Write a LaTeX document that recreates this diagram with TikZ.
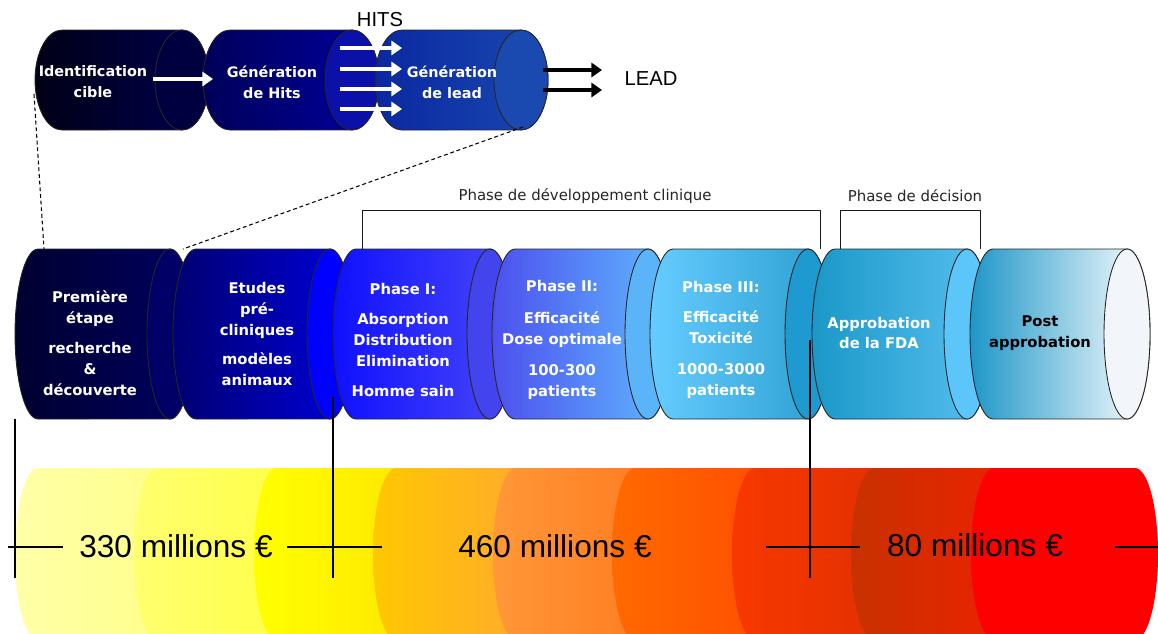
\documentclass[tikz,border=0pt]{standalone}
\usepackage{fontspec}
\setmainfont{DejaVu Sans}
\newfontfamily\arialfont{Liberation Sans}
\usetikzlibrary{arrows.meta}
% colours of the cylinders
\definecolor{topAl}{HTML}{000015}
\definecolor{topAr}{HTML}{000050}
\definecolor{topAe}{HTML}{000040}
\definecolor{topBl}{HTML}{000058}
\definecolor{topBr}{HTML}{0000A0}
\definecolor{topBe}{HTML}{0A10A8}
\definecolor{topCl}{HTML}{0A28A0}
\definecolor{topCr}{HTML}{1A48B0}
\definecolor{topCe}{HTML}{1A4AB0}
\definecolor{rowAl}{HTML}{000030}
\definecolor{rowAr}{HTML}{000060}
\definecolor{rowAe}{HTML}{000066}
\definecolor{rowBl}{HTML}{000070}
\definecolor{rowBr}{HTML}{0000DD}
\definecolor{rowBe}{HTML}{0000FF}
\definecolor{rowCl}{HTML}{1010FF}
\definecolor{rowCr}{HTML}{4848F8}
\definecolor{rowCe}{HTML}{4444EE}
\definecolor{rowDl}{HTML}{4C50EE}
\definecolor{rowDr}{HTML}{60B8FF}
\definecolor{rowDe}{HTML}{5CB4F8}
\definecolor{rowEl}{HTML}{66CCFF}
\definecolor{rowEr}{HTML}{2A9ED0}
\definecolor{rowEe}{HTML}{1E9AD0}
\definecolor{rowFl}{HTML}{1A98C8}
\definecolor{rowFr}{HTML}{58C0F0}
\definecolor{rowFe}{HTML}{5CC6FA}
\definecolor{rowGl}{HTML}{1E96C8}
\definecolor{rowGr}{HTML}{FFFFFF}
\definecolor{rowGe}{HTML}{F2F5FA}
% colours of the cost bar
\definecolor{barAl}{HTML}{FFFFA8}
\definecolor{barAr}{HTML}{FFFF88}
\definecolor{barBl}{HTML}{FFFF70}
\definecolor{barBr}{HTML}{FFFF45}
\definecolor{barCl}{HTML}{FFFF00}
\definecolor{barCr}{HTML}{FFE600}
\definecolor{barDl}{HTML}{FFC800}
\definecolor{barDr}{HTML}{FFA830}
\definecolor{barEl}{HTML}{FF9838}
\definecolor{barEr}{HTML}{FF7A20}
\definecolor{barFl}{HTML}{FF6A00}
\definecolor{barFr}{HTML}{FF4C00}
\definecolor{barGl}{HTML}{F83800}
\definecolor{barGr}{HTML}{E03000}
\definecolor{barHl}{HTML}{C83200}
\definecolor{barHr}{HTML}{EE2000}
\tikzstyle{smallcap} = [x radius=0.54cm, 
y radius=1cm]
\tikzstyle{bigcap} = [x radius=0.46cm, 
y radius=1.7cm]
\tikzstyle{barcap} = [x radius=0.46cm, 
y radius=1.72cm]
\tikzstyle{cylbody} = [draw=black!85, 
line width=0.5pt]
\tikzstyle{toptext} = [text=white, 
align=center, 
font=\bfseries\fontsize{8.2}{12}\selectfont]
\tikzstyle{cyltext} = [text=white, 
align=center, 
font=\bfseries\fontsize{8.4}{11.9}\selectfont]
\tikzstyle{phasetext} = [text=black!85, 
font=\fontsize{8.5}{10}\selectfont]
\tikzstyle{moneytext} = [font=\arialfont\fontsize{18}{20}\selectfont]
\tikzstyle{tagtext} = [font=\arialfont\fontsize{11.5}{13}\selectfont]
\tikzstyle{hitarrow} = [white, line width=2.3pt, -{Triangle[length=6pt,width=8pt]}]
\tikzstyle{leadarrow} = [black, line width=2.3pt, -{Triangle[length=6pt,width=8pt]}]
\tikzstyle{bracket} = [draw=black!90, line width=0.55pt]
\tikzstyle{guide} = [draw=black, line width=0.6pt]
\tikzstyle{zoomline} = [draw=black, line width=0.6pt, dash pattern=on 2.2pt off 1.6pt]

\begin{document}
\begin{tikzpicture}[x=0.02cm, y=-0.02cm]
	\clip (0,0) rectangle (1158,633);
	\fill[white] (0,0) rectangle (1158,633);
	
	% cost bar
	\path[left color=barAl, right color=barAr] (38,468) -- (180,468) -- (180,640) -- (38,640) arc[barcap, start angle=270, end angle=90] -- cycle;
	\path[left color=barBl, right color=barBr] (157,468) -- (300,468) -- (300,640) -- (157,640) arc[barcap, start angle=270, end angle=90] -- cycle;
	\path[left color=barCl, right color=barCr] (277,468) -- (419,468) -- (419,640) -- (277,640) arc[barcap, start angle=270, end angle=90] -- cycle;
	\path[left color=barDl, right color=barDr] (396,468) -- (539,468) -- (539,640) -- (396,640) arc[barcap, start angle=270, end angle=90] -- cycle;
	\path[left color=barEl, right color=barEr] (516,468) -- (658,468) -- (658,640) -- (516,640) arc[barcap, start angle=270, end angle=90] -- cycle;
	\path[left color=barFl, right color=barFr] (635,468) -- (778,468) -- (778,640) -- (635,640) arc[barcap, start angle=270, end angle=90] -- cycle;
	\path[left color=barGl, right color=barGr] (755,468) -- (897,468) -- (897,640) -- (755,640) arc[barcap, start angle=270, end angle=90] -- cycle;
	\path[left color=barHl, right color=barHr] (874,468) -- (1017,468) -- (1017,640) -- (874,640) arc[barcap, start angle=270, end angle=90] -- cycle;
	\path[fill=red] (994,468) -- (1135,468) arc[barcap, start angle=90, end angle=-90] -- (994,640) arc[barcap, start angle=270, end angle=90] -- cycle;
	
	% upper chain
	\path[cylbody, left color=topAl, right color=topAr] (62,30) -- (182,30) arc[smallcap, start angle=90, end angle=-90] -- (62,130) arc[smallcap, start angle=270, end angle=90] -- cycle;
	\path[cylbody, fill=topAe] (182,80) ellipse[smallcap];
	\path[cylbody, left color=topBl, right color=topBr] (230,30) -- (352,30) arc[smallcap, start angle=90, end angle=-90] -- (230,130) arc[smallcap, start angle=270, end angle=90] -- cycle;
	\path[cylbody, fill=topBe] (352,80) ellipse[smallcap];
	\path[cylbody, left color=topCl, right color=topCr] (402,30) -- (521,30) arc[smallcap, start angle=90, end angle=-90] -- (402,130) arc[smallcap, start angle=270, end angle=90] -- cycle;
	\path[cylbody, fill=topCe] (521,80) ellipse[smallcap];
	
	\node (idcible) [toptext] at (93,82) {Identification\\cible};
	\node (genhits) [toptext] at (272,82) {Génération\\de Hits};
	\node (genlead) [toptext] at (452,82) {Génération\\de lead};
	\node (hits) [tagtext] at (380,20) {HITS};
	\node (lead) [tagtext] at (651,79) {LEAD};
	
	\coordinate (cibleout) at (153,79);
	\coordinate (hitsin) at (213,79);
	\draw[hitarrow] (cibleout) -- (hitsin);
	\coordinate (hitA) at (340,48);
	\coordinate (hitB) at (340,69);
	\coordinate (hitC) at (340,89);
	\coordinate (hitD) at (340,109);
	\draw[hitarrow] (hitA) -- ++(62,0);
	\draw[hitarrow] (hitB) -- ++(62,0);
	\draw[hitarrow] (hitC) -- ++(62,0);
	\draw[hitarrow] (hitD) -- ++(62,0);
	\coordinate (leadA) at (543,70);
	\coordinate (leadB) at (543,90);
	\draw[leadarrow] (leadA) -- ++(59,0);
	\draw[leadarrow] (leadB) -- ++(59,0);
	
	% zoom lines
	\coordinate (zoomAtop) at (34,94);
	\coordinate (zoomAbot) at (44,249);
	\coordinate (zoomBtop) at (523,127);
	\coordinate (zoomBbot) at (183,249);
	\draw[zoomline] (zoomAtop) -- (zoomAbot);
	\draw[zoomline] (zoomBtop) -- (zoomBbot);
	
	% main chain
	\path[cylbody, left color=rowAl, right color=rowAr] (38,249) -- (170,249) arc[bigcap, start angle=90, end angle=-90] -- (38,419) arc[bigcap, start angle=270, end angle=90] -- cycle;
	\path[cylbody, fill=rowAe] (170,334) ellipse[bigcap];
	\path[cylbody, left color=rowBl, right color=rowBr] (196,249) -- (330,249) arc[bigcap, start angle=90, end angle=-90] -- (196,419) arc[bigcap, start angle=270, end angle=90] -- cycle;
	\path[cylbody, fill=rowBe] (330,334) ellipse[bigcap];
	\path[cylbody, left color=rowCl, right color=rowCr] (356,249) -- (490,249) arc[bigcap, start angle=90, end angle=-90] -- (356,419) arc[bigcap, start angle=270, end angle=90] -- cycle;
	\path[cylbody, fill=rowCe] (490,334) ellipse[bigcap];
	\path[cylbody, left color=rowDl, right color=rowDr] (515,249) -- (648,249) arc[bigcap, start angle=90, end angle=-90] -- (515,419) arc[bigcap, start angle=270, end angle=90] -- cycle;
	\path[cylbody, fill=rowDe] (648,334) ellipse[bigcap];
	\path[cylbody, left color=rowEl, right color=rowEr] (673,249) -- (808,249) arc[bigcap, start angle=90, end angle=-90] -- (673,419) arc[bigcap, start angle=270, end angle=90] -- cycle;
	\path[cylbody, fill=rowEe] (808,334) ellipse[bigcap];
	\path[cylbody, left color=rowFl, right color=rowFr] (835,249) -- (967,249) arc[bigcap, start angle=90, end angle=-90] -- (835,419) arc[bigcap, start angle=270, end angle=90] -- cycle;
	\path[cylbody, fill=rowFe] (967,334) ellipse[bigcap];
	\path[cylbody, left color=rowGl, right color=rowGr] (993,249) -- (1127,249) arc[bigcap, start angle=90, end angle=-90] -- (993,419) arc[bigcap, start angle=270, end angle=90] -- cycle;
	\path[cylbody, fill=rowGe] (1127,334) ellipse[bigcap];
	
	\node (premiere) [cyltext] at (90,343) {Première\\étape\\[5pt]recherche\\\&\\découverte};
	\node (etudes) [cyltext] at (257,334) {Etudes\\pré-\\cliniques\\[5pt]modèles\\animaux};
	\node (phaseI) [cyltext] at (403,340) {Phase I:\\[5pt]Absorption\\Distribution\\Elimination\\[5pt]Homme sain};
	\node (phaseII) [cyltext] at (562,340) {Phase II:\\[6pt]Efficacité\\Dose optimale\\[6pt]100-300\\patients};
	\node (phaseIII) [cyltext] at (721,340) {Phase III:\\[5pt]Efficacité\\Toxicité\\[6pt]1000-3000\\patients};
	\node (fda) [cyltext] at (879,333) {Approbation\\de la FDA};
	\node (post) [cyltext, text=black] at (1040,333) {Post\\approbation};
	
	% phase brackets
	\coordinate (clinL) at (362,249);
	\coordinate (clinR) at (820,249);
	\draw[bracket] (clinL) -- ++(0,-39) -| (clinR);
	\node (clin) [phasetext] at (585,196) {Phase de développement clinique};
	\coordinate (decL) at (840,249);
	\coordinate (decR) at (980,249);
	\draw[bracket] (decL) -- ++(0,-39) -| (decR);
	\node (decision) [phasetext] at (915,196) {Phase de décision};
	
	% cost marks
	\coordinate (markAtop) at (15,419);
	\coordinate (markAbot) at (15,578);
	\coordinate (markBtop) at (333,397);
	\coordinate (markBbot) at (333,578);
	\coordinate (markCtop) at (810,340);
	\coordinate (markCbot) at (810,578);
	\draw[guide] (markAtop) -- (markAbot);
	\draw[guide] (markBtop) -- (markBbot);
	\draw[guide] (markCtop) -- (markCbot);
	\coordinate (tickAl) at (8,547);
	\coordinate (tickAr) at (63,547);
	\coordinate (tickBl) at (287,547);
	\coordinate (tickBr) at (382,547);
	\coordinate (tickCl) at (766,547);
	\coordinate (tickCr) at (860,547);
	\coordinate (tickDl) at (1115,547);
	\coordinate (tickDr) at (1158,547);
	\draw[guide] (tickAl) -- (tickAr);
	\draw[guide] (tickBl) -- (tickBr);
	\draw[guide] (tickCl) -- (tickCr);
	\draw[guide] (tickDl) -- (tickDr);
	
	\node (costA) [moneytext] at (176,546) {330 millions €};
	\node (costB) [moneytext] at (555,546) {460 millions €};
	\node (costC) [moneytext] at (975,545) {80 millions €};
\end{tikzpicture}
\end{document}
